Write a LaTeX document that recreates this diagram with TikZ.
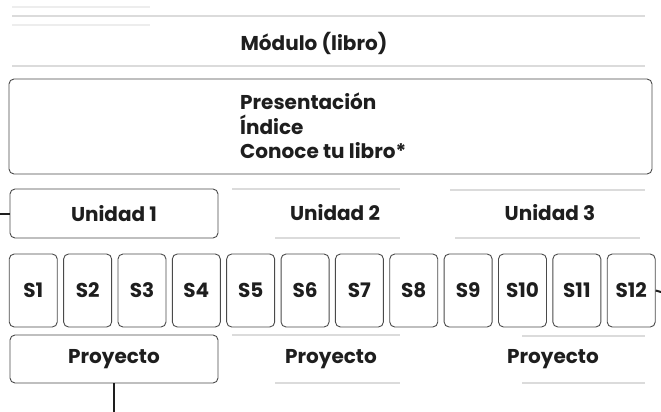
\documentclass[tikz,border=0pt]{standalone}
\usepackage{fontspec}
\setmainfont{Poppins}
\definecolor{ink}{HTML}{1E1E1E}
\definecolor{frame}{HTML}{4A4A4A}
\begin{document}
\begin{tikzpicture}[x=1pt,y=-1pt,
  txt/.style={font=\bfseries\fontsize{20}{24}\selectfont, text=ink},
  rbox/.style={draw=frame, rounded corners=5pt, line width=0.9pt},
  sbox/.style={rbox, minimum width=48pt, minimum height=73pt, inner sep=0pt, txt},
  conn/.style={line width=2pt, draw=ink},
  faint/.style={line width=1.5pt, draw=black!14}]
\useasboundingbox (0,0) rectangle (661,412);
% faint lines
\draw[faint] (12,16) -- (645,16);
\draw[faint, draw=black!7] (12,7) -- (150,7);
\draw[faint, draw=black!7] (12,25) -- (150,25);
\draw[faint] (12,66) -- (645,66);
\draw[faint] (232,189) -- (400,189);
\draw[faint] (275,238) -- (400,238);
\draw[faint] (450,190) -- (645,190);
\draw[faint] (455,238) -- (640,238);
\draw[faint] (232,335) -- (400,335);
\draw[faint] (275,383) -- (400,383);
\draw[faint] (522,336) -- (645,336);
\draw[faint] (522,383) -- (645,383);
% title
\node[txt] (mod) at (314,43) {Módulo (libro)};
% front matter
\node[rbox, minimum width=643pt, minimum height=95pt] (front) at (330.5,126.5) {};
\node[txt, font=\bfseries\fontsize{20}{24.5}\selectfont, align=left, anchor=west, inner sep=0pt] (fronttxt) at (240,126) {Presentación\\Índice\\Conoce tu libro*};
% units
\node[rbox, minimum width=208pt, minimum height=49pt, txt] (u1) at (114,213.5) {Unidad 1};
\node[txt] (u2) at (335,213) {Unidad 2};
\node[txt] (u3) at (550,213) {Unidad 3};
% sessions
\foreach \i in {1,...,12} {
  \node[sbox] (s\i) at ({33.25+(\i-1)*54.36},290.5) {S\i};
}
% projects
\node[rbox, minimum width=208pt, minimum height=48pt, txt] (p1) at (114,359) {Proyecto};
\node[txt] (p2) at (331,359) {Proyecto};
\node[txt] (p3) at (553,359) {Proyecto};
% connectors
\coordinate (lft) at (0,213.5);
\coordinate (rgt) at (661,292);
\coordinate (bot) at (114,412);
\draw[conn] (lft) -- (u1.west);
\draw[conn] (s12.east) -- (rgt);
\draw[conn] (p1.south) -- (bot);
\end{tikzpicture}
\end{document}
